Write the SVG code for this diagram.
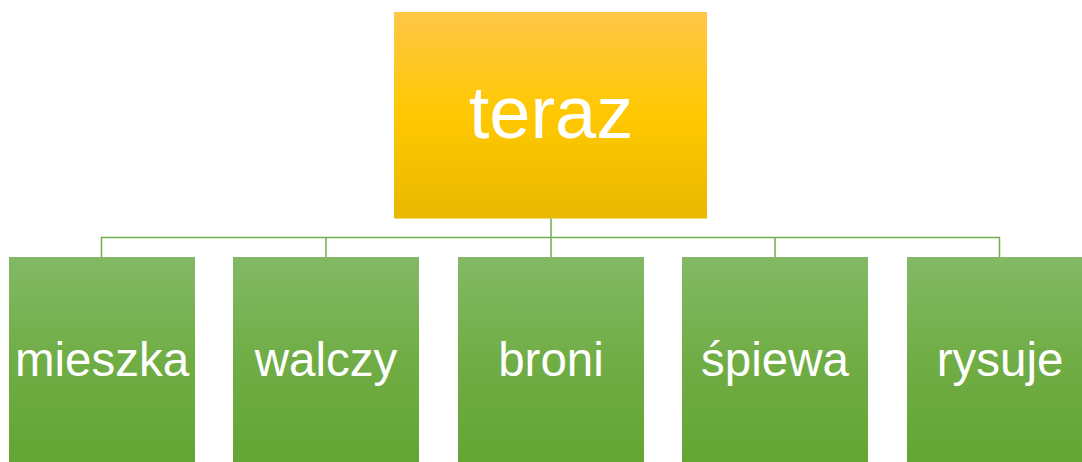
<svg xmlns="http://www.w3.org/2000/svg" width="1082" height="462" viewBox="0 0 1082 462">
<defs>
<linearGradient id="gy" x1="0" y1="0" x2="0" y2="1">
<stop offset="0" stop-color="#FFC747"/>
<stop offset="0.5" stop-color="#FFC800"/>
<stop offset="1" stop-color="#E8B700"/>
</linearGradient>
<linearGradient id="gg" x1="0" y1="0" x2="0" y2="1">
<stop offset="0" stop-color="#83B966"/>
<stop offset="0.5" stop-color="#70AD45"/>
<stop offset="1" stop-color="#64A534"/>
</linearGradient>
<style>
.c{fill:none;stroke:#72AD4E;stroke-width:1.5}
.t{fill:#FFFFFF;font-family:"Liberation Sans",Arial,sans-serif;text-anchor:middle}
.s{font-size:47.5px}
</style>
</defs>
<rect width="1082" height="462" fill="#FFFFFF"/>
<g id="connectors">
<path class="c" d="M551,218.5V237.5M101.5,257V237.5H999.5V257M326,237.5V257M551,237.5V257M775,237.5V257"/>
</g>
<g id="teraz">
<rect x="394" y="12" width="313" height="206.5" fill="url(#gy)"/>
<text class="t" x="551" y="138" font-size="74">teraz</text>
</g>
<g id="mieszka">
<rect x="9" y="257" width="186" height="206" fill="url(#gg)"/>
<text class="t s" x="102" y="376">mieszka</text>
</g>
<g id="walczy">
<rect x="233" y="257" width="186" height="206" fill="url(#gg)"/>
<text class="t s" x="326" y="376">walczy</text>
</g>
<g id="broni">
<rect x="458" y="257" width="186" height="206" fill="url(#gg)"/>
<text class="t s" x="551" y="376">broni</text>
</g>
<g id="spiewa">
<rect x="682" y="257" width="186" height="206" fill="url(#gg)"/>
<text class="t s" x="775" y="376">śpiewa</text>
</g>
<g id="rysuje">
<rect x="907" y="257" width="186" height="206" fill="url(#gg)"/>
<text class="t s" x="1000" y="376">rysuje</text>
</g>
</svg>
